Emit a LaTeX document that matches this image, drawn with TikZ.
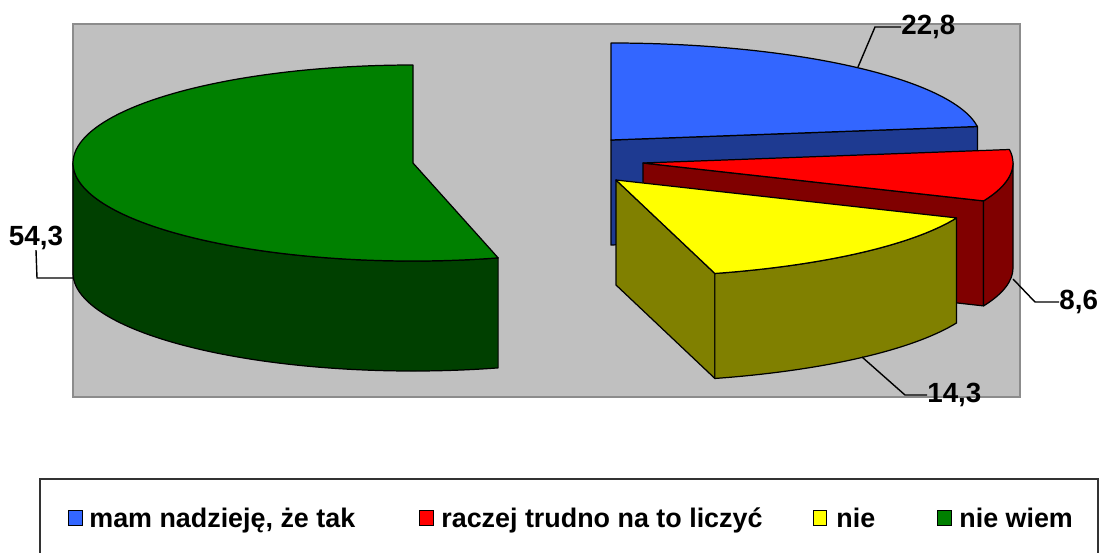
\documentclass[tikz,border=0pt]{standalone}
\usepackage{fontspec}
\setmainfont{Liberation Sans}
\usetikzlibrary{calc}
\definecolor{plotgray}{RGB}{192,192,192}
\definecolor{bluetop}{RGB}{51,102,255}
\definecolor{blueside}{RGB}{30,58,145}
\definecolor{redtop}{RGB}{255,0,0}
\definecolor{redside}{RGB}{128,0,0}
\definecolor{yellowtop}{RGB}{255,255,0}
\definecolor{yellowside}{RGB}{128,128,0}
\definecolor{greentop}{RGB}{0,128,0}
\definecolor{greenside}{RGB}{0,64,0}
\begin{document}
\begin{tikzpicture}[x=0.02cm, y=-0.02cm,
    face/.style={draw=black, line width=0.7pt, line join=round},
    leader/.style={draw=black, line width=0.8pt},
    value/.style={font=\fontsize{15.8}{17}\selectfont\bfseries, inner sep=0pt},
    key/.style={draw=black, line width=0.6pt, minimum width=7.6pt, minimum height=8.2pt, inner sep=0pt},
    keytext/.style={font=\fontsize{15.3}{17}\selectfont\bfseries, inner sep=0pt, anchor=base west}]
  \useasboundingbox (0,0) rectangle (1109,552);
  % plot area
  \draw[draw=black!45, line width=0.7pt, fill=plotgray] (73,24) rectangle (1020,397);
  % slice centres
  \coordinate (g) at (413,163);
  \coordinate (b) at (611,140);
  \coordinate (r) at (643,163);
  \coordinate (y) at (616,180);
  % nie wiem
  \draw[face, fill=greenside] (g) ++(75.5:340 and 98)
    arc[start angle=75.5, end angle=180, x radius=340, y radius=98] -- ++(0,110)
    arc[start angle=180, end angle=75.5, x radius=340, y radius=98] -- cycle;
  \draw[face, fill=greentop] (g) -- ++(75.5:340 and 98)
    arc[start angle=75.5, end angle=270, x radius=340, y radius=98] -- cycle;
  % mam nadzieje, ze tak
  \draw[face, fill=blueside] (b) -- ++(-8:370 and 97) -- ++(0,105) -- ($(b)+(0,105)$) -- cycle;
  \draw[face, fill=bluetop] (b) -- ++(-8:370 and 97)
    arc[start angle=-8, end angle=-90, x radius=370, y radius=97] -- cycle;
  % raczej trudno na to liczyc
  \draw[face, fill=redside] (r) -- ++(23:370 and 97) -- ++(0,105) -- ($(r)+(0,105)$) -- cycle;
  \draw[face, fill=redside] (r) ++(0:370 and 97)
    arc[start angle=0, end angle=23, x radius=370, y radius=97] -- ++(0,105)
    arc[start angle=23, end angle=0, x radius=370, y radius=97] -- cycle;
  \draw[face, fill=redtop] (r) -- ++(-8:370 and 97)
    arc[start angle=-8, end angle=23, x radius=370, y radius=97] -- cycle;
  % nie
  \draw[face, fill=yellowside] (y) -- ++(74.5:370 and 97) -- ++(0,105) -- ($(y)+(0,105)$) -- cycle;
  \draw[face, fill=yellowside] (y) ++(23:370 and 97)
    arc[start angle=23, end angle=74.5, x radius=370, y radius=97] -- ++(0,105)
    arc[start angle=74.5, end angle=23, x radius=370, y radius=97] -- cycle;
  \draw[face, fill=yellowtop] (y) -- ++(23:370 and 97)
    arc[start angle=23, end angle=74.5, x radius=370, y radius=97] -- cycle;
  % values
  \node[value, anchor=west] (v1) at (901,27) {22,8};
  \node[value, anchor=west] (v2) at (1059,302) {8,6};
  \node[value, anchor=west] (v3) at (927,395) {14,3};
  \node[value] (v4) at (36,238) {54,3};
  \coordinate (p1) at (858,67);
  \coordinate (p2) at (1013,279);
  \coordinate (p3) at (862,357);
  \coordinate (p4) at (73,278);
  \draw[leader] (p1) -- (875,27) -- (v1.west);
  \draw[leader] (p2) -- (1035,302) -- (v2.west);
  \draw[leader] (p3) -- (905,395) -- (v3.west);
  \draw[leader] (p4) -- (37,278) -- (v4.south);
  % legend
  \draw[draw=black!80, line width=1.1pt] (40,560) -- (40,479) -- (1098,479) -- (1098,560);
  \node[key, fill=bluetop] (k1) at (75.5,518) {};
  \node[key, fill=redtop] (k2) at (426.5,518) {};
  \node[key, fill=yellowtop] (k3) at (820,518) {};
  \node[key, fill=greentop] (k4) at (944.5,518) {};
  \node[keytext] (t1) at (89,527) {mam nadzieję, że tak};
  \node[keytext] (t2) at (441,527) {raczej trudno na to liczyć};
  \node[keytext] (t3) at (836,527) {nie};
  \node[keytext] (t4) at (959,527) {nie wiem};
\end{tikzpicture}
\end{document}
